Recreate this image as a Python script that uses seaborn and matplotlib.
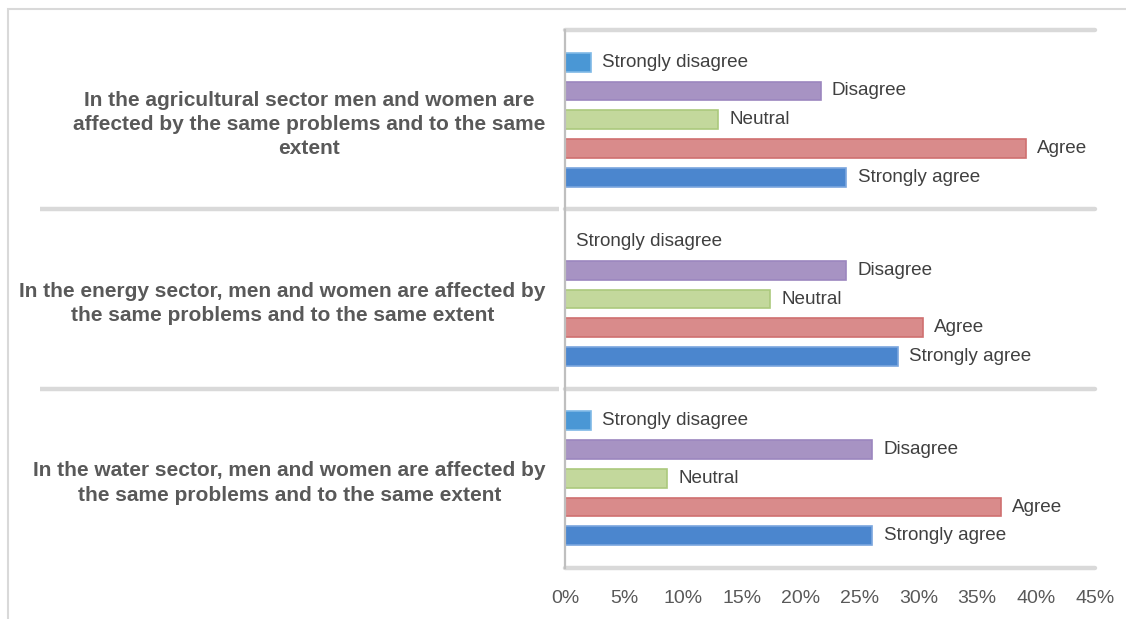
import matplotlib
matplotlib.use("Agg")
import matplotlib.pyplot as plt
import matplotlib.transforms as mtransforms
from matplotlib.patches import Rectangle
import seaborn as sns
import pandas as pd

# ---- data ----
statements = [
    "In the agricultural sector men and women are\naffected by the same problems and to the same\nextent",
    "In the energy sector, men and women are affected by\nthe same problems and to the same extent",
    "In the water sector, men and women are affected by\nthe same problems and to the same extent",
]
responses = ["Strongly disagree", "Disagree", "Neutral", "Agree", "Strongly agree"]
agri_vals = [2.2, 21.7, 13.0, 39.1, 23.9]
energy_vals = [0.0, 23.9, 17.4, 30.4, 28.3]
water_vals = [2.2, 26.1, 8.7, 37.0, 26.1]
x_ticks = [0, 5, 10, 15, 20, 25, 30, 35, 40, 45]
x_tick_labels = ["0%", "5%", "10%", "15%", "20%", "25%", "30%", "35%", "40%", "45%"]

fill_colors = ["#4A97D5", "#A793C3", "#C3D89C", "#D98B8B", "#4B86CE"]
edge_colors = ["#7FB9E6", "#9C86BF", "#ABC97D", "#CF7070", "#7AA6DE"]

rows = []
for st, vals in zip(statements, [agri_vals, energy_vals, water_vals]):
    for r, v in zip(responses, vals):
        rows.append({"statement": st, "response": r, "value": v})
df = pd.DataFrame(rows)

sns.set_theme(style="white")
plt.rcParams["font.family"] = ["Liberation Sans", "DejaVu Sans"]

fig = plt.figure(figsize=(11.26, 6.19), dpi=100)
W, H = 1126, 619
ax = fig.add_axes([565 / W, 1 - 568 / H, (1095 - 565) / W, (568 - 30) / H])

sns.barplot(
    data=df, y="statement", x="value", hue="response",
    order=statements, hue_order=responses,
    palette=fill_colors, saturation=1, orient="h", width=0.8, gap=0.34,
    dodge=True, legend=False, ax=ax, errorbar=None,
    linewidth=1.2,
)

for cont, ec, name in zip(ax.containers, edge_colors, responses):
    for p in cont:
        p.set_edgecolor(ec)
    ax.bar_label(cont, labels=[name] * len(cont), padding=8,
                 fontsize=13.6, color="#404040")

ax.set_xlim(0, 45)
ax.set_ylim(2.5, -0.5)
ax.set_xticks(x_ticks)
ax.set_xticklabels(x_tick_labels)
ax.set_xlabel("")
ax.set_ylabel("")
ax.tick_params(axis="x", length=0, pad=16, labelsize=14, labelcolor="#595959")
ax.tick_params(axis="y", length=0, pad=14, labelsize=15, labelcolor="#595959")
for lab in ax.get_yticklabels():
    lab.set_fontweight("bold")
    lab.set_multialignment("center")
    lab.set_linespacing(1.35)

for s in ["top", "right", "bottom"]:
    ax.spines[s].set_visible(False)
ax.spines["left"].set_color("#BFBFBF")
ax.spines["left"].set_linewidth(1.6)

sep_color = "#D9D9D9"
for yb in [-0.5, 0.5, 1.5, 2.5]:
    ax.axhline(yb, color=sep_color, lw=3.2, clip_on=False, zorder=0)
blend = mtransforms.blended_transform_factory(fig.transFigure, ax.transData)
for yb in [0.5, 1.5]:
    ax.plot([40 / W, 559 / W], [yb, yb], transform=blend, color=sep_color,
            lw=3.2, clip_on=False, solid_capstyle="butt")

fig.patches.append(Rectangle((8 / W, -0.1), 1.2, 1.1 - 9 / H + 0.0,
                             transform=fig.transFigure, fill=False,
                             edgecolor="#D9D9D9", lw=1.5))

fig.savefig("out.png", dpi=100)
